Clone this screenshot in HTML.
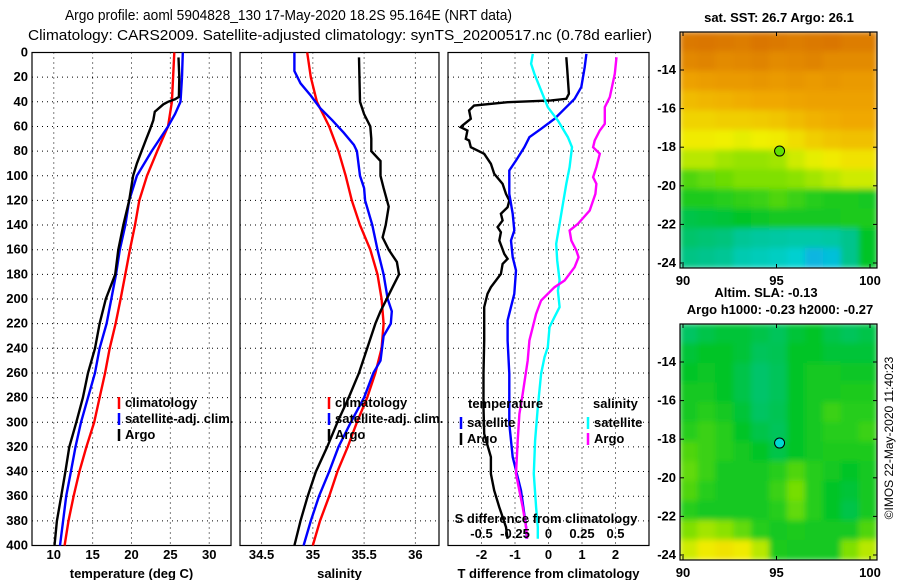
<!DOCTYPE html>
<html><head><meta charset="utf-8"><style>
html,body{margin:0;padding:0;background:#fff;}
svg{display:block;font-family:"Liberation Sans",Arial,sans-serif;}
.tk{font-size:13px;font-weight:bold;fill:#000;}
.ttl{font-size:15px;fill:#000;}
</style></head><body>
<svg id="fig" width="900" height="580" viewBox="0 0 900 580" xmlns="http://www.w3.org/2000/svg">
<rect width="900" height="580" fill="#fff"/>
<text class="ttl" x="65" y="20" textLength="447" lengthAdjust="spacingAndGlyphs">Argo profile: aoml 5904828_130 17-May-2020 18.2S 95.164E (NRT data)</text>
<text class="ttl" x="28" y="40" textLength="624" lengthAdjust="spacingAndGlyphs">Climatology: CARS2009. Satellite-adjusted climatology: synTS_20200517.nc (0.78d earlier)</text>
<g id="g"></g>
</svg>
<script>
// ---- data: temperature panel (depth m, value deg C)
const tClimD=[0,40,60,80,100,120,140,160,180,200,220,240,260,280,300,320,340,360,380,400];
const tClimV=[25.5,25.2,24.7,23.3,22.0,21.0,20.45,19.8,19.2,18.6,17.95,17.2,16.6,15.9,15.2,14.2,13.3,12.55,11.9,11.4];
const tSatD=[0,20,40,50,60,80,100,120,140,160,180,200,220,240,260,280,300,320,340,360,380,400];
const tSatV=[26.6,26.5,26.3,25.6,24.7,22.6,20.7,19.7,19.2,18.5,18.0,17.4,16.8,15.9,15.3,14.4,13.5,12.8,12.2,11.6,11.2,10.8];
const tArgoD=[4,20,36,38,40,42,48,55,62,70,80,90,100,120,140,160,180,200,220,240,260,280,300,320,340,360,380,400];
const tArgoV=[26.05,26.15,26.1,25.6,24.7,24.1,23.0,22.8,22.4,21.9,21.3,20.7,20.2,19.7,18.95,18.3,17.9,16.7,15.9,15.3,14.4,13.75,12.9,12.0,11.5,10.95,10.4,10.1];
// ---- salinity panel
const sClimD=[0,20,40,60,80,100,120,140,160,180,200,220,240,260,280,300,320,340,360,380,400];
const sClimV=[34.945,34.98,35.04,35.16,35.25,35.32,35.38,35.46,35.56,35.63,35.67,35.69,35.67,35.61,35.53,35.43,35.34,35.24,35.16,35.07,35.0];
const sSatD=[0,15,25,35,45,55,65,75,80,100,110,120,140,160,180,200,210,220,230,250,260,280,300,320,340,360,380,400];
const sSatV=[34.82,34.82,34.88,34.98,35.07,35.19,35.30,35.40,35.43,35.46,35.5,35.51,35.58,35.63,35.69,35.73,35.77,35.76,35.69,35.66,35.59,35.50,35.37,35.25,35.16,35.06,34.98,34.91];
const sArgoD=[4,40,50,60,70,80,88,100,110,125,140,150,160,170,180,190,200,210,220,240,260,280,300,320,340,360,380,400];
const sArgoV=[35.45,35.46,35.5,35.56,35.57,35.57,35.66,35.66,35.69,35.74,35.71,35.68,35.74,35.82,35.84,35.78,35.72,35.66,35.61,35.53,35.45,35.35,35.24,35.14,35.03,34.95,34.88,34.82];
// ---- difference panel
const dTArgoD=[3.8,14.6,33.5,37.6,38.9,40.3,43,47,53.8,59.2,60.6,63.3,70,71.4,76.8,82.2,90.3,98.4,106.6,114.7,120.1,125.5,130.9,136.3,141.7,145.8,152.5,163.4,167.4,171.5,179.6,190.4,195.8,206.6,233.7,260.7,287.8,309.4,328.3,341.9,355.4,368.9,385.1,394.6];
const dTArgoV=[0.53,0.56,0.61,0.53,0.08,-1.22,-2.22,-2.37,-2.32,-2.57,-2.62,-2.42,-2.47,-2.37,-2.32,-1.92,-1.72,-1.62,-1.37,-1.27,-1.17,-1.22,-1.42,-1.37,-1.52,-1.42,-1.47,-1.32,-1.22,-1.37,-1.42,-1.72,-1.82,-1.92,-1.92,-1.94,-1.94,-1.92,-1.72,-1.72,-1.62,-1.47,-1.27,-1.22];
const dTSatD=[1.1,11.9,28.1,37.6,45.7,53.8,61.9,68.7,76.8,87.6,95.7,114.7,130.9,144.4,152.5,166.1,176.9,195.8,217.4,233.7,260.7,301.3,328.3,355.4,385.1,394.6];
const dTSatV=[1.13,1.08,0.98,0.78,0.48,0.18,-0.22,-0.57,-0.72,-0.97,-1.17,-1.17,-1.07,-1.02,-1.12,-1.07,-0.97,-1.02,-1.22,-1.22,-1.17,-1.17,-1.07,-0.82,-0.67,-0.65];
const dSSatD=[1.1,9.2,17.3,30.8,44.4,55.2,68.7,76.8,93,106.6,122.8,139,155.2,168.8,185,193.1,206.6,214.7,222.9,239.1,247.2,260.7,287.8,314.8,341.9,368.9,385.1,394.6];
const dSSatV=[-0.1175,-0.13,-0.105,-0.055,-0.005,0.07,0.145,0.175,0.1575,0.1325,0.1075,0.0825,0.0575,0.065,0.0825,0.07,0.0825,0.045,0.0075,-0.005,-0.03,-0.055,-0.08,-0.1,-0.11,-0.0925,-0.08,-0.08];
const dSArgoD=[3.8,17.3,36.2,44.4,57.9,63.3,71.4,76.8,82.2,93,101.2,106.6,114.7,128.2,139,144.4,152.5,160.6,166.1,174.2,185,190.4,201.2,212,233.7,249.9,276.9,293.2,314.8,341.9,368.9,385.1,394.6];
const dSArgoV=[0.5075,0.495,0.4575,0.42,0.42,0.3825,0.345,0.3325,0.3825,0.3575,0.3325,0.3575,0.35,0.3075,0.22,0.1575,0.17,0.2075,0.225,0.195,0.12,0.045,-0.055,-0.0925,-0.1425,-0.155,-0.1925,-0.2175,-0.23,-0.2425,-0.1925,-0.1675,-0.16];
// ---- ticks
const depthTicks=[0,20,40,60,80,100,120,140,160,180,200,220,240,260,280,300,320,340,360,380,400];
const tTicks=[10,15,20,25,30];
const sTicks=[34.5,35,35.5,36];
const dTTicks=[-2,-1,0,1,2];
const dSTicks=[-0.5,-0.25,0,0.25,0.5];
const dSTickLabels=["-0.5","-0.25","0","0.25","0.5"];
// ---- maps (values 0..1 on colour scale)
const sstGrid=[
[0.93,0.94,0.93,0.92,0.94,0.93,0.92,0.93,0.94,0.92,0.92],
[0.89,0.9,0.88,0.89,0.9,0.88,0.89,0.9,0.88,0.88,0.88],
[0.82,0.83,0.84,0.84,0.85,0.84,0.85,0.84,0.85,0.84,0.84],
[0.76,0.77,0.78,0.79,0.8,0.8,0.81,0.82,0.82,0.82,0.82],
[0.71,0.71,0.72,0.72,0.73,0.74,0.76,0.78,0.79,0.8,0.8],
[0.66,0.66,0.65,0.64,0.65,0.66,0.69,0.72,0.74,0.75,0.75],
[0.6,0.6,0.58,0.57,0.57,0.58,0.62,0.64,0.66,0.68,0.68],
[0.5,0.52,0.53,0.55,0.55,0.55,0.56,0.58,0.6,0.62,0.62],
[0.45,0.45,0.46,0.47,0.48,0.5,0.48,0.46,0.45,0.45,0.44],
[0.38,0.39,0.4,0.42,0.43,0.44,0.44,0.44,0.44,0.45,0.45],
[0.34,0.33,0.32,0.28,0.26,0.25,0.24,0.24,0.25,0.3,0.42],
[0.31,0.3,0.28,0.22,0.2,0.18,0.15,0.1,0.12,0.3,0.42]];
const slaGrid=[
[0.35,0.38,0.4,0.4,0.38,0.36,0.4,0.42,0.38,0.36,0.38],
[0.4,0.42,0.42,0.4,0.36,0.37,0.42,0.42,0.4,0.4,0.4],
[0.42,0.43,0.42,0.38,0.34,0.36,0.42,0.44,0.44,0.43,0.43],
[0.44,0.44,0.42,0.38,0.34,0.36,0.42,0.44,0.44,0.45,0.45],
[0.44,0.46,0.44,0.4,0.35,0.37,0.42,0.44,0.48,0.46,0.46],
[0.46,0.48,0.46,0.42,0.38,0.36,0.42,0.44,0.46,0.46,0.48],
[0.5,0.48,0.46,0.44,0.42,0.38,0.42,0.44,0.45,0.45,0.45],
[0.52,0.48,0.44,0.44,0.44,0.46,0.5,0.46,0.44,0.42,0.44],
[0.5,0.46,0.44,0.44,0.44,0.48,0.54,0.46,0.42,0.4,0.44],
[0.46,0.44,0.44,0.44,0.44,0.46,0.52,0.46,0.42,0.38,0.44],
[0.55,0.58,0.56,0.52,0.46,0.44,0.45,0.44,0.44,0.44,0.5],
[0.62,0.66,0.68,0.66,0.6,0.45,0.44,0.44,0.44,0.55,0.6]];
const lonTicks=[90,95,100];
const latTicks=[-14,-16,-18,-20,-22,-24];
const floatLon=95.164, floatLat=-18.2;

const NS="http://www.w3.org/2000/svg";
const G=document.getElementById('g');
function mk(tag,attrs,parent){const e=document.createElementNS(NS,tag);for(const k in attrs)e.setAttribute(k,attrs[k]);(parent||G).appendChild(e);return e;}
function txt(s,x,y,anchor,cls,parent){const t=mk('text',{x:x,y:y,'text-anchor':anchor||'middle','class':cls||'tk'},parent);t.textContent=s;return t;}

const Y0=52.5,Y1=545.5;
const yD=d=>Y0+(Y1-Y0)*d/400;
function panel(name,x0,x1,xmin,xmax,ticks,labels,title){
  const g=mk('g',{});
  
  
  const xf=v=>x0+(x1-x0)*(v-xmin)/(xmax-xmin);
  depthTicks.forEach(d=>{const l=mk('line',{x1:x0,x2:x1,y1:yD(d),y2:yD(d),stroke:'#000','stroke-width':1,'stroke-dasharray':'1,4'},g);
    });
  ticks.forEach((v,i)=>{const l=mk('line',{x1:xf(v),x2:xf(v),y1:Y0,y2:Y1,stroke:'#000','stroke-width':1,'stroke-dasharray':'1,4'},g);
    
    if(labels){const t=txt(labels[i],xf(v),559,'middle','tk',g);}});
  const fr=mk('rect',{x:x0,y:Y0,width:x1-x0,height:Y1-Y0,fill:'none',stroke:'#000','stroke-width':1.2},g);
  
  if(title){const t=txt(title,(x0+x1)/2,578,'middle','tk',g);}
  return {g,xf};
}
function series(p,D,V,col,name,scale){
  const pts=D.map((d,i)=>(p.xf(V[i]*(scale||1))).toFixed(1)+','+yD(d).toFixed(1)).join(' ');
  const l=mk('polyline',{points:pts,fill:'none',stroke:col,'stroke-width':2.4,'stroke-linejoin':'miter'},p.g);
  
  
}
function legendEntry(g,x,y,col,label,name){
  const l=mk('line',{x1:x,x2:x,y1:y-7,y2:y+5,stroke:col,'stroke-width':2.5},g);
  
  const t=txt(label,x+6,y+3,'start','tk',g);
  
}
depthTicks.forEach(d=>{const t=txt(String(d),28,yD(d)+4,'end');});

const p1=panel('temperature-panel',32,231,7.2,32.8,tTicks,tTicks.map(String),'temperature (deg C)');
series(p1,tClimD,tClimV,'#ff0000','temperature-climatology-line');
series(p1,tSatD,tSatV,'#0000ff','temperature-satellite-adj-line');
series(p1,tArgoD,tArgoV,'#000000','temperature-argo-line');
legendEntry(p1.g,119,404,'#ff0000','climatology','legend-climatology');
legendEntry(p1.g,119,420,'#0000ff','satellite-adj. clim.','legend-satellite-adj');
legendEntry(p1.g,119,436,'#000000','Argo','legend-argo');

const p2=panel('salinity-panel',240,439,34.29,36.23,sTicks,sTicks.map(String),'salinity');
series(p2,sClimD,sClimV,'#ff0000','salinity-climatology-line');
series(p2,sSatD,sSatV,'#0000ff','salinity-satellite-adj-line');
series(p2,sArgoD,sArgoV,'#000000','salinity-argo-line');
legendEntry(p2.g,329,404,'#ff0000','climatology','legend-climatology-sal');
legendEntry(p2.g,329,420,'#0000ff','satellite-adj. clim.','legend-satellite-adj-sal');
legendEntry(p2.g,329,436,'#000000','Argo','legend-argo-sal');

const p3=panel('difference-panel',448,649,-3.0,3.0,dTTicks,dTTicks.map(String),'T difference from climatology');
series(p3,dTArgoD,dTArgoV,'#000000','t-diff-argo-line');
series(p3,dTSatD,dTSatV,'#0000ff','t-diff-satellite-line');
series(p3,dSSatD,dSSatV,'#00ffff','s-diff-satellite-line',4);
series(p3,dSArgoD,dSArgoV,'#ff00ff','s-diff-argo-line',4);
dSTicks.forEach((v,i)=>{const t=txt(dSTickLabels[i],p3.xf(v*4),538,'middle','tk',p3.g);});
{const t=txt('S difference from climatology',546,523,'middle','tk',p3.g);}
{const t=txt('temperature',468,408,'start','tk',p3.g);}
{const t=txt('salinity',593,408,'start','tk',p3.g);}
legendEntry(p3.g,461,424,'#0000ff','satellite','legend-t-satellite');
legendEntry(p3.g,461,440,'#000000','Argo','legend-t-argo');
legendEntry(p3.g,588,424,'#00ffff','satellite','legend-s-satellite');
legendEntry(p3.g,588,440,'#ff00ff','Argo','legend-s-argo');

const stops=[[0,[32,128,255]],[0.15,[0,208,208]],[0.3,[0,196,140]],[0.42,[0,196,40]],[0.55,[128,224,0]],[0.65,[240,240,0]],[0.8,[240,168,0]],[1,[208,96,0]]];
function cmap(v){for(let i=1;i<stops.length;i++){if(v<=stops[i][0]){const a=stops[i-1],b=stops[i],f=(v-a[0])/(b[0]-a[0]);
  return 'rgb('+a[1].map((c,k)=>Math.round(c+(b[1][k]-c)*f)).join(',')+')';}}return 'rgb(208,96,0)';}
const defs=mk('defs',{});
const flt=mk('filter',{id:'bl',x:'0',y:'0',width:'1',height:'1'},defs);
mk('feGaussianBlur',{stdDeviation:'3',edgeMode:'duplicate'},flt);
function mapPanel(name,grid,top,dotCol){
  const x0=680,x1=877,y0=top,y1=top+236;
  const lonF=v=>683+(v-90)*18.7, latF=v=>(top+38)+(-14-v)*19.3;
  const g=mk('g',{});
  const cp=mk('clipPath',{id:'cp'+name},defs);mk('rect',{x:x0,y:y0,width:x1-x0,height:y1-y0},cp);
  const gi=mk('g',{'clip-path':'url(#cp'+name+')'},g);
  const gb=mk('g',{filter:'url(#bl)'},gi);
  const rows=grid.length,cols=grid[0].length,cw=(x1-x0)/cols,rh=(y1-y0)/rows;
  grid.forEach((r,i)=>r.forEach((v,j)=>{const c=mk('rect',{x:x0+j*cw-0.5,y:y0+i*rh-0.5,width:cw+1,height:rh+1,fill:cmap(v)},gb);
    }));
  const fr=mk('rect',{x:x0,y:y0,width:x1-x0,height:y1-y0,fill:'none',stroke:'#000','stroke-width':1.2},g);
  
  lonTicks.forEach(v=>{const x=lonF(v);mk('line',{x1:x,x2:x,y1:y0,y2:y0+4,stroke:'#000'},g);mk('line',{x1:x,x2:x,y1:y1,y2:y1-4,stroke:'#000'},g);
    const t=txt(String(v),x,y1+17,'middle','tk',g);});
  latTicks.forEach(v=>{const y=latF(v);mk('line',{x1:x0,x2:x0+4,y1:y,y2:y,stroke:'#000'},g);mk('line',{x1:x1,x2:x1-4,y1:y,y2:y,stroke:'#000'},g);
    const t=txt(String(v),x0-4,y+4,'end','tk',g);});
  const dot=mk('circle',{cx:lonF(floatLon),cy:latF(floatLat),r:5,fill:dotCol,stroke:'#000','stroke-width':1},g);
  
}
mapPanel('sst-map',sstGrid,32,'#60e000');
mapPanel('sla-map',slaGrid,324,'#00d8d0');
{const t=txt('sat. SST: 26.7 Argo: 26.1',779,22,'middle','tk');}
{const t=txt('Altim. SLA: -0.13',766,297,'middle','tk');}
{const t=txt('Argo h1000: -0.23 h2000: -0.27',780,314,'middle','tk');}
{const t=mk('text',{x:0,y:0,'text-anchor':'middle','font-size':'12','transform':'translate(893,438) rotate(-90)'});t.textContent='©IMOS 22-May-2020 11:40:23';
 }
</script>
</body></html>
